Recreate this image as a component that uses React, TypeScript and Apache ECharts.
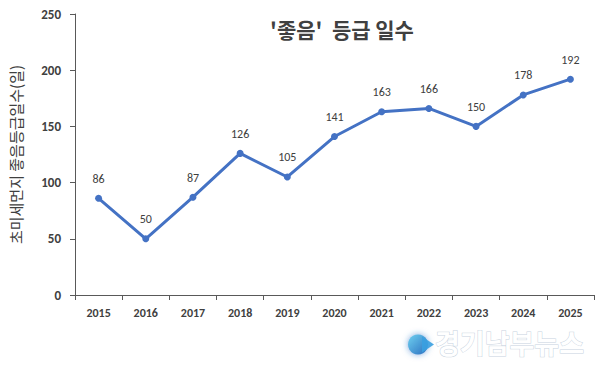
import React, { useEffect, useRef } from "react";
import * as echarts from "echarts";

const years = ["2015", "2016", "2017", "2018", "2019", "2020", "2021", "2022", "2023", "2024", "2025"];
const goodDays = [86, 50, 87, 126, 105, 141, 163, 166, 150, 178, 192];
const yTicks = { min: 0, max: 250, interval: 50 };
const titleText = "'좋음'  등급 일수";
const yName = "초미세먼지 좋음등급일수(일)";
const watermark = "경기남부뉴스";

export default function App() {
  const ref = useRef<HTMLDivElement>(null);
  useEffect(() => {
    if (!ref.current) return;
    const chart = echarts.init(ref.current, undefined, { renderer: "svg" });
    const font = "'Noto Sans CJK KR', 'Noto Sans', sans-serif";
    const numFont = "Carlito, Calibri, 'Open Sans', 'DejaVu Sans', sans-serif";
    chart.setOption({
      animation: false,
      backgroundColor: "#ffffff",
      title: {
        text: titleText,
        left: 337,
        top: 13,
        textAlign: "center",
        textStyle: { fontSize: 21, fontWeight: "bold", color: "#404040", fontFamily: font },
      },
      grid: { left: 75, right: 13, top: 14, bottom: 77 },
      xAxis: {
        type: "category",
        data: years,
        boundaryGap: true,
        axisLine: { lineStyle: { color: "#595959", width: 1 } },
        axisTick: { show: true, inside: false, length: 5, alignWithLabel: false, lineStyle: { color: "#595959" } },
        axisLabel: { color: "#404040", fontWeight: "bold", fontSize: 12, margin: 12, fontFamily: numFont },
      },
      yAxis: {
        type: "value",
        min: yTicks.min,
        max: yTicks.max,
        interval: yTicks.interval,
        name: yName,
        nameLocation: "middle",
        nameGap: 52,
        nameRotate: 90,
        nameTextStyle: { fontSize: 15, color: "#404040", fontFamily: font },
        axisLine: { show: true, lineStyle: { color: "#595959", width: 1 } },
        axisTick: { show: true, length: 5, lineStyle: { color: "#595959" } },
        splitLine: { show: false },
        axisLabel: { color: "#404040", fontWeight: "bold", fontSize: 13, margin: 14, fontFamily: numFont },
      },
      series: [
        {
          type: "line",
          data: goodDays,
          symbol: "circle",
          symbolSize: 7,
          lineStyle: { color: "#4472C4", width: 3 },
          itemStyle: { color: "#4472C4" },
          label: { show: true, position: "top", distance: 10, fontSize: 12, color: "#404040", fontFamily: numFont },
        },
      ],
      graphic: [
        {
          type: "group",
          left: 408,
          top: 328,
          children: [
            {
              type: "circle",
              shape: { cx: 12, cy: 16, r: 10 },
              style: {
                fill: new echarts.graphic.LinearGradient(0, 0, 1, 1, [
                  { offset: 0, color: "#6fd0f0" },
                  { offset: 1, color: "#2a6fc0" },
                ]),
                shadowBlur: 6,
                shadowColor: "rgba(40,110,200,0.6)",
              },
            },
            {
              type: "polygon",
              shape: { points: [[16, 8], [28, 16], [16, 24]] },
              style: { fill: "#3aa0e0", opacity: 0.9 },
            },
            {
              type: "text",
              x: 29,
              y: 0,
              style: {
                text: watermark,
                fontSize: 27,
                fontWeight: "bold",
                fontFamily: font,
                fill: "#ffffff",
                stroke: "#c8d3e0",
                lineWidth: 1,
                shadowBlur: 6,
                shadowColor: "rgba(60,100,160,0.7)",
              },
            },
          ],
        },
      ],
    });
    return () => chart.dispose();
  }, []);
  return <div ref={ref} style={{ width: 607, height: 372, position: "absolute", left: 0, top: 0 }} />;
}
